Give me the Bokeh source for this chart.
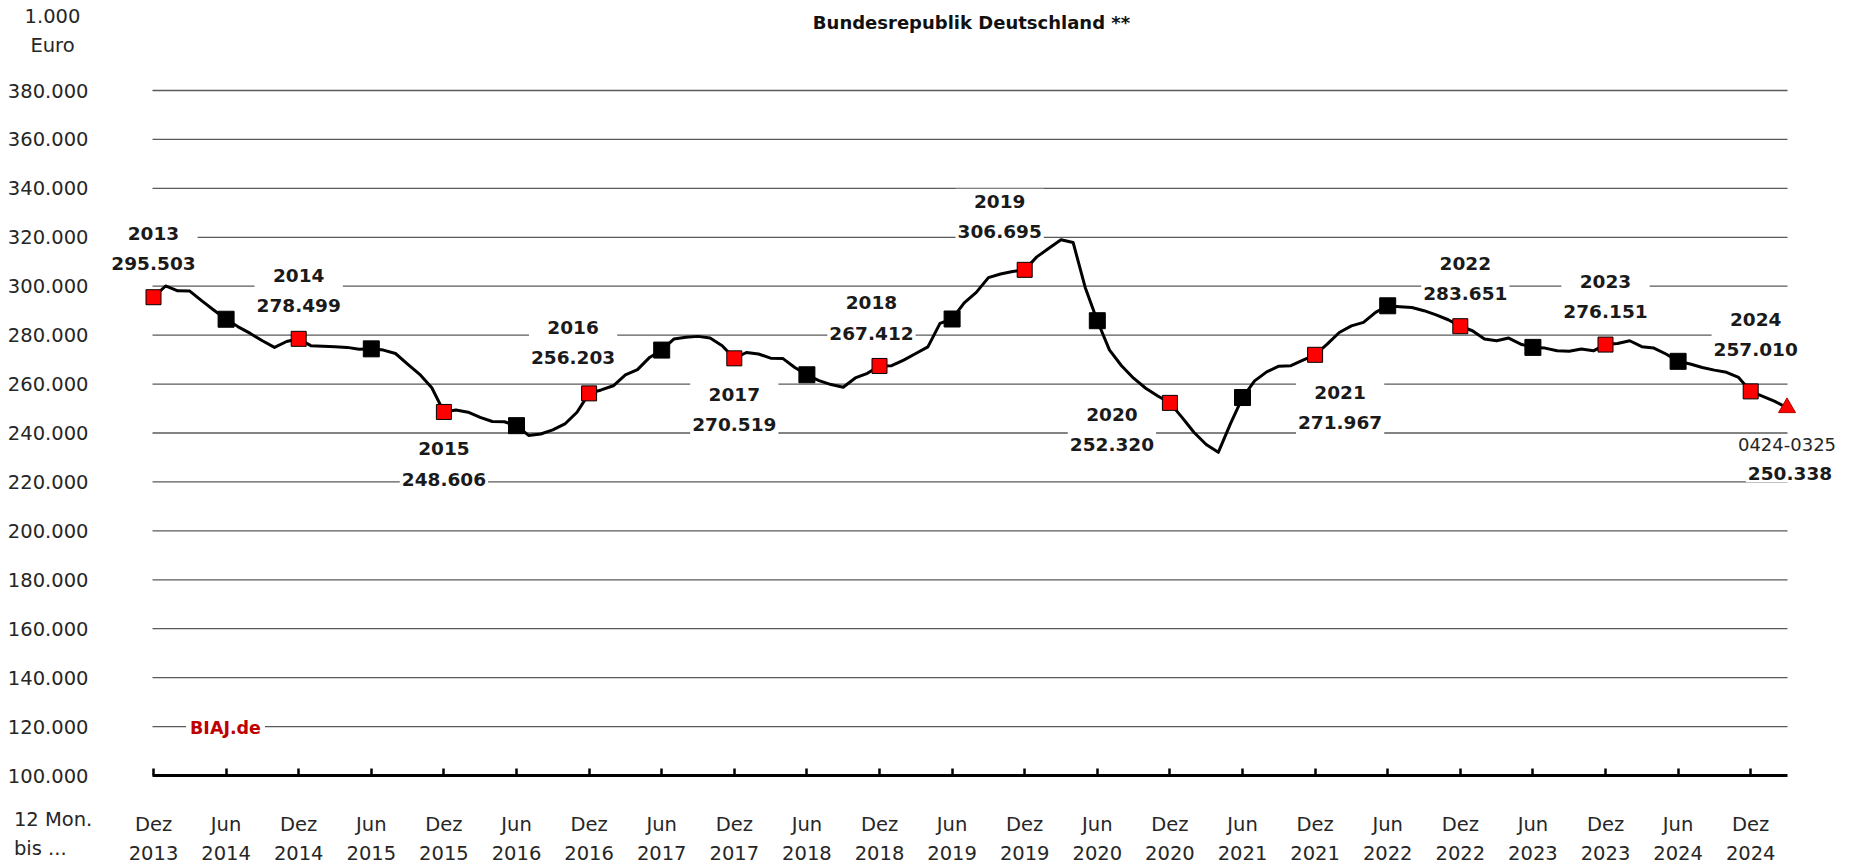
import numpy as np
from bokeh.plotting import figure
from bokeh.models import Label, FixedTicker, Range1d, CustomJSTickFormatter, LinearAxis
from bokeh.embed import file_html
from bokeh.resources import INLINE

# ---------------- data (1.000 Euro, 12-month rolling sums) ----------------
# months from Dez 2013 (index 0) to Mar 2025 (index 135)
values = [
    295.503,
    300.1, 298.1, 298.0, 294.0, 290.2, 286.5, 283.4, 280.7, 277.7, 275.0, 277.4, 278.499,
    275.7, 275.5, 275.3, 275.0, 274.2, 274.4, 273.9, 272.5, 268.2, 264.0, 258.5, 248.606,
    249.4, 248.5, 246.4, 244.7, 244.6, 243.0, 239.0, 239.6, 241.3, 243.7, 248.5, 256.203,
    257.6, 259.3, 263.8, 265.9, 270.9, 273.9, 278.4, 279.1, 279.5, 278.8, 275.7, 270.519,
    272.9, 272.3, 270.6, 270.5, 266.8, 263.8, 261.4, 259.8, 258.7, 262.5, 264.4, 267.412,
    267.5, 269.8, 272.5, 275.2, 284.8, 286.6, 293.2, 297.5, 303.5, 305.0, 306.0, 306.695,
    312.0, 315.5, 319.0, 317.9, 299.5, 285.9, 274.0, 267.5, 262.4, 258.3, 255.1, 252.320,
    246.4, 240.2, 235.3, 232.1, 243.7, 254.5, 261.3, 265.0, 267.3, 267.5, 269.8, 271.967,
    276.3, 281.1, 283.8, 285.2, 289.3, 292.0, 291.6, 291.3, 290.0, 288.3, 286.3, 283.651,
    281.8, 278.4, 277.7, 278.8, 276.3, 275.0, 274.7, 273.6, 273.4, 274.3, 273.6, 276.151,
    276.6, 277.7, 275.3, 274.7, 272.3, 269.3, 268.2, 266.8, 265.7, 264.8, 262.7, 257.010,
    255.0, 252.9, 250.338,
]
tick_months = ["Dez", "Jun"] * 11 + ["Dez"]
tick_years = [2013, 2014, 2014, 2015, 2015, 2016, 2016, 2017, 2017, 2018, 2018, 2019,
              2019, 2020, 2020, 2021, 2021, 2022, 2022, 2023, 2023, 2024, 2024]
label_years = ["2013", "2014", "2015", "2016", "2017", "2018", "2019", "2020",
               "2021", "2022", "2023", "2024"]
label_values = [295.503, 278.499, 248.606, 256.203, 270.519, 267.412, 306.695,
                252.320, 271.967, 283.651, 276.151, 257.010]
last_period = "0424-0325"
last_value = 250.338
y_ticks = [100, 120, 140, 160, 180, 200, 220, 240, 260, 280, 300, 320, 340, 360, 380]

# ---------------- layout helpers (canvas pixel -> data) ----------------
W, H = 1850, 865
X0_PX, PX_PER_MONTH = 153.0, 12.1        # px of index 0, px per month
Y100_PX, PX_PER_UNIT = 775.0, 2.4464     # px of 100.000, px per 1.000

def mx(ix):
    return (ix - X0_PX) / PX_PER_MONTH

def vy(iy):
    return 100 + (Y100_PX - iy) / PX_PER_UNIT

FONT = "DejaVu Sans"
TXT = "#262626"

x = np.arange(len(values))
vals = np.array(values)

# the frame covers the whole canvas so that no text is clipped
p = figure(width=W, height=H, output_backend="svg", toolbar_location=None,
           x_range=Range1d(mx(0), mx(W)), y_range=Range1d(vy(H), vy(0)),
           x_axis_location=None, y_axis_location=None, min_border=0)
p.outline_line_color = None
p.xgrid.visible = False
p.ygrid.visible = False
p.background_fill_color = "white"
p.border_fill_color = "white"

# gridlines limited to the plotted period
gx0, gx1 = mx(152), mx(1787)
gy = y_ticks[1:]
p.segment(x0=[gx0] * len(gy), y0=gy, x1=[gx1] * len(gy), y1=gy,
          line_color="#5a5a5a", line_width=1.3)

# data line and markers
p.line(x, vals, line_color="black", line_width=3, line_join="round")
dec_idx = x[0:133:12]
jun_idx = x[6:133:12]
p.scatter(jun_idx, vals[jun_idx], marker="square", size=16,
          fill_color="black", line_color="black")
p.scatter(dec_idx, vals[dec_idx], marker="square", size=15,
          fill_color="#ff0000", line_color="black", line_width=1)
p.scatter([x[-1]], [vals[-1]], marker="triangle", size=17,
          fill_color="#ff0000", line_color="#b00000", line_width=1)

# y axis (fixed inside the frame)
yax = LinearAxis(fixed_location=gx0)
yax.ticker = FixedTicker(ticks=y_ticks)
yax.formatter = CustomJSTickFormatter(code="return tick.toFixed(3);")
yax.axis_line_color = None
yax.major_tick_line_color = None
yax.minor_tick_line_color = None
yax.major_label_standoff = 58
yax.major_label_text_font = FONT
yax.major_label_text_font_size = "19.5px"
yax.major_label_text_color = TXT
p.add_layout(yax, "left")

# x axis (fixed at 100.000)
xax = LinearAxis(fixed_location=100)
tick_pos = list(range(0, 6 * len(tick_months), 6))
xax.ticker = FixedTicker(ticks=tick_pos)
xax.formatter = CustomJSTickFormatter(
    args=dict(labels=[f"{m}\n{y}" for m, y in zip(tick_months, tick_years)]),
    code="return labels[Math.round(tick/6)];")
xax.bounds = (gx0, gx1)
xax.axis_line_width = 3
xax.axis_line_color = "black"
xax.major_tick_in = 7
xax.major_tick_out = 0
xax.major_tick_line_width = 2.5
xax.major_tick_line_color = "black"
xax.minor_tick_line_color = None
xax.major_label_standoff = 37
xax.major_label_text_font = FONT
xax.major_label_text_font_size = "19.5px"
xax.major_label_text_line_height = 1.28
xax.major_label_text_color = TXT
p.add_layout(xax, "below")

# year-end data labels
dxs = [0, 0, 0, -16, 0, -8, -25, -58, 25, 5, 0, 5]
dys = [48.5, 48.5, -52, 51, -51, 48, 53.5, -26.5, -52.5, 47.5, 48, 57]
for i, (yr, v) in enumerate(zip(label_years, label_values)):
    p.add_layout(Label(x=12 * i, y=v, x_offset=dxs[i], y_offset=dys[i],
                       text=f"{yr}\n{v:.3f}", text_align="center",
                       text_baseline="middle", text_font=FONT,
                       text_font_style="bold", text_font_size="18.5px",
                       text_line_height=1.44, text_color="#1a1a1a",
                       background_fill_color="white", padding=2))
p.add_layout(Label(x=x[-1], y=last_value, y_offset=-37, text=last_period,
                   text_align="center", text_baseline="middle", text_font=FONT,
                   text_font_size="18px", text_color=TXT,
                   background_fill_color="white", padding=2))
p.add_layout(Label(x=x[-1], y=last_value, x_offset=3, y_offset=-66,
                   text=f"{last_value:.3f}",
                   text_align="center", text_baseline="middle", text_font=FONT,
                   text_font_style="bold", text_font_size="18.5px",
                   text_color="#1a1a1a", background_fill_color="white", padding=2))

# other texts
p.add_layout(Label(x=mx(225), y=vy(727.7), text="BIAJ.de", text_align="center",
                   text_baseline="middle", text_font=FONT, text_font_style="bold",
                   text_font_size="17.5px", text_color="#c00000",
                   background_fill_color="white", padding=4))
p.add_layout(Label(x=mx(52), y=vy(30.5), text="1.000\nEuro", text_align="center",
                   text_baseline="middle", text_font=FONT, text_font_size="19.5px",
                   text_line_height=1.28, text_color=TXT))
p.add_layout(Label(x=mx(971), y=vy(22), text="Bundesrepublik Deutschland **",
                   text_align="center", text_baseline="middle", text_font=FONT,
                   text_font_style="bold", text_font_size="18px",
                   text_color="#111111"))
p.add_layout(Label(x=mx(13.4), y=vy(833.7), text="12 Mon.\nbis ...",
                   text_align="left", text_baseline="middle", text_font=FONT,
                   text_font_size="19.5px", text_line_height=1.28, text_color=TXT))

open("out.html", "w").write(file_html(p, INLINE))
